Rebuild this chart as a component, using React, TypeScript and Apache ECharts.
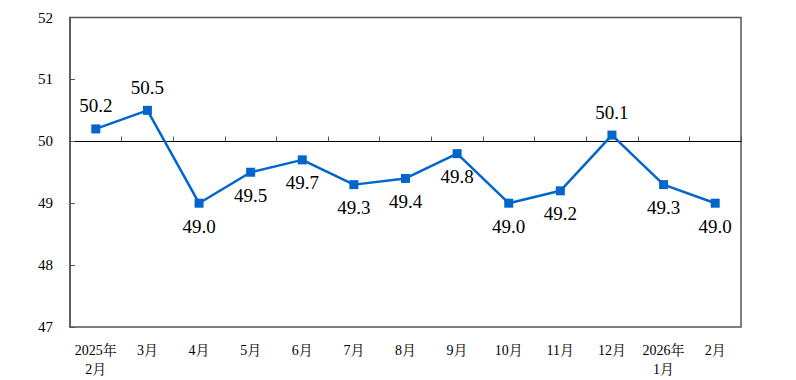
import React, { useEffect, useRef } from "react";
import * as echarts from "echarts";

const categories = ["2025年\n2月", "3月", "4月", "5月", "6月", "7月", "8月", "9月", "10月", "11月", "12月", "2026年\n1月", "2月"];
const values = [50.2, 50.5, 49.0, 49.5, 49.7, 49.3, 49.4, 49.8, 49.0, 49.2, 50.1, 49.3, 49.0];
const yTicks = { min: 47, max: 52, interval: 1 };
const refLine = 50;

export default function App() {
  const ref = useRef<HTMLDivElement>(null);
  useEffect(() => {
    document.body.style.margin = "0";
    const chart = echarts.init(ref.current!, null, { renderer: "svg" });
    const serif = "'Liberation Serif', 'Times New Roman', 'Noto Serif CJK SC', 'Noto Sans CJK SC', serif";
    chart.setOption({
      animation: false,
      backgroundColor: "#fff",
      grid: { left: 70, right: 55, top: 17.5, bottom: 53, show: true, borderColor: "#555", borderWidth: 1.5, backgroundColor: "transparent" },
      xAxis: [
        {
          type: "category",
          data: categories,
          position: "bottom",
          boundaryGap: true,
          axisLine: { show: false },
          axisTick: { show: false },
          axisLabel: { color: "#000", fontFamily: serif, fontSize: 14, margin: 14, lineHeight: 19, interval: 0 },
        },
        {
          type: "category",
          data: categories,
          position: "bottom",
          offset: -185.5,
          boundaryGap: true,
          axisLine: { show: true, lineStyle: { color: "#000", width: 1 } },
          axisTick: { show: true, inside: true, length: 5, lineStyle: { color: "#555" }, interval: 0 },
          axisLabel: { show: false },
        },
      ],
      yAxis: {
        type: "value",
        min: yTicks.min,
        max: yTicks.max,
        interval: yTicks.interval,
        axisLine: { show: true, lineStyle: { color: "#555", width: 1.5 } },
        axisTick: { show: true, inside: true, length: 5, lineStyle: { color: "#555" } },
        splitLine: { show: false },
        axisLabel: { color: "#000", fontFamily: serif, fontSize: 15, margin: 17 },
      },
      series: [
        {
          type: "line",
          xAxisIndex: 0,
          data: values.map((v) => ({
            value: v,
            label: { position: v >= refLine ? "top" : "bottom" },
          })),
          symbol: "rect",
          symbolSize: 9,
          lineStyle: { color: "#0066CC", width: 2.5 },
          itemStyle: { color: "#0066CC" },
          label: {
            show: true,
            color: "#000",
            fontFamily: serif,
            fontSize: 19,
            distance: 9,
            formatter: (p: any) => Number(p.value).toFixed(1),
          },
          z: 5,
        },
      ],
    });
    return () => chart.dispose();
  }, []);
  return <div ref={ref} style={{ width: 796, height: 380 }} />;
}
